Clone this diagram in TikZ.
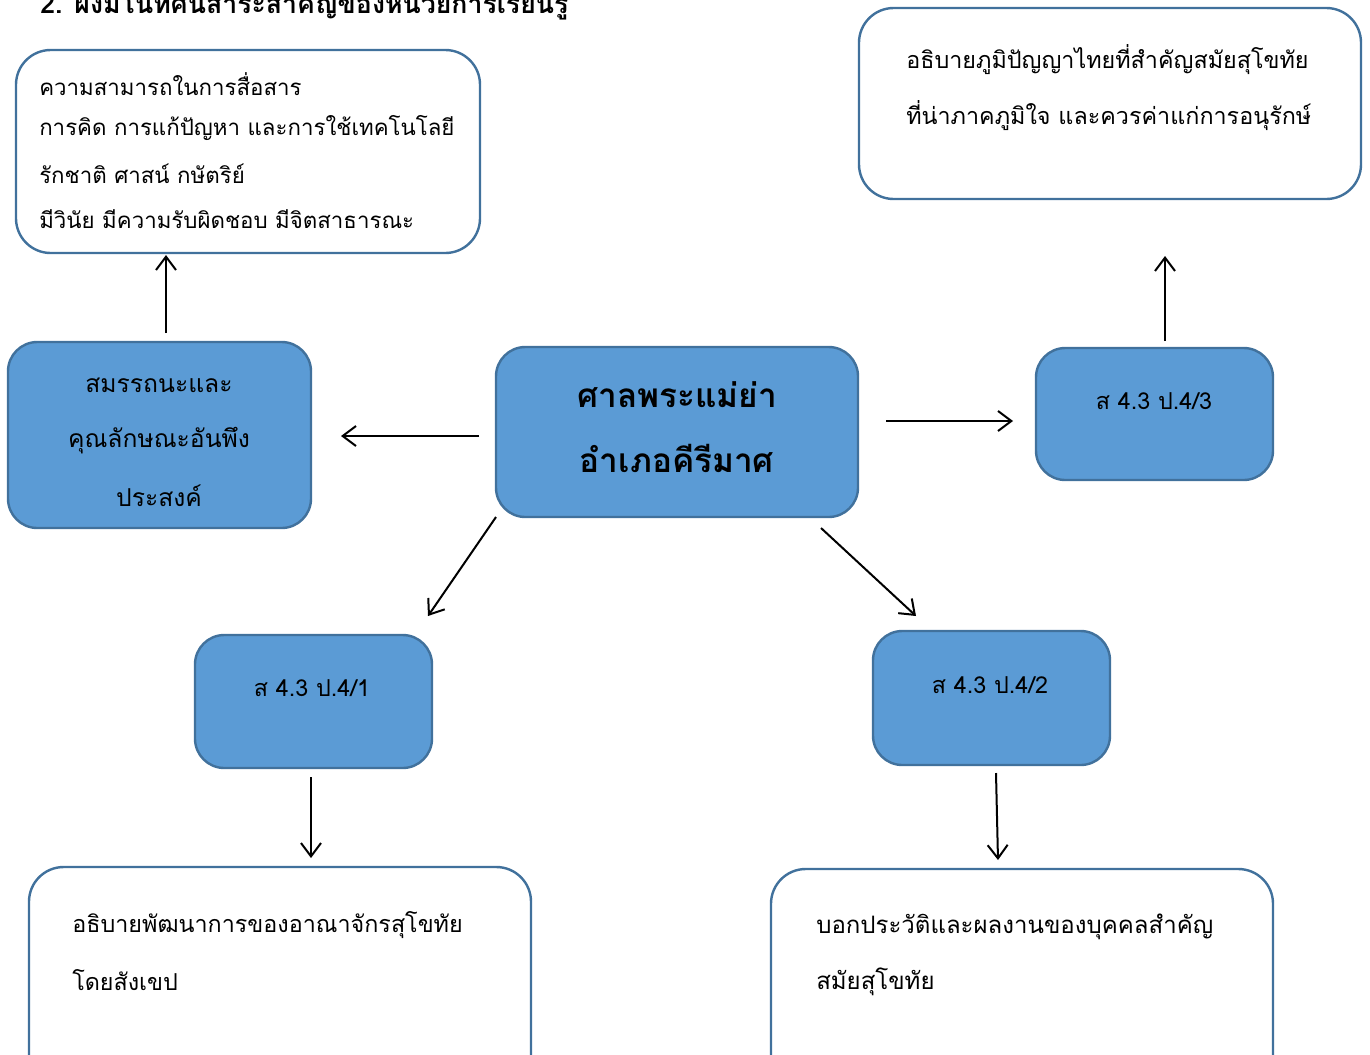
\documentclass[tikz,border=0pt]{standalone}
\usepackage{fontspec}
\setmainfont[Script=Thai]{Loma}
\usetikzlibrary{arrows.meta}
\definecolor{boxfill}{HTML}{5B9BD5}
\definecolor{boxline}{HTML}{41719C}
\tikzset{
  px/.style={x=0.75pt,y=-0.75pt},
  bluebox/.style={draw=boxline,line width=1.8pt,fill=boxfill,rounded corners=22pt,inner sep=0pt},
  whitebox/.style={draw=boxline,line width=1.8pt,fill=white,rounded corners=26pt,inner sep=0pt},
  txt/.style={inner sep=0pt,anchor=west,font=\fontsize{17.5pt}{20pt}\selectfont},
  ctxt/.style={inner sep=0pt,font=\fontsize{18.5pt}{21pt}\selectfont},
  codetxt/.style={inner sep=0pt,font=\fontsize{17.5pt}{20pt}\selectfont},
  boldtxt/.style={inner sep=0pt,font=\bfseries\fontsize{25pt}{28pt}\selectfont},
  arr/.style={-{Straight Barb[length=10pt,width=15pt,line width=1.5pt]},line width=1.5pt,black}
}
\begin{document}
\begin{tikzpicture}[px]
\useasboundingbox (0,0) rectangle (1370,1054);
% title (cut at top)
\node[inner sep=0pt,anchor=base west,font=\bfseries\fontsize{20pt}{24pt}\selectfont] (title) at (40,13) {2. ผังมโนทัศน์สาระสำคัญของหน่วยการเรียนรู้};
% boxes
\node[whitebox,minimum width=348pt,minimum height=152.25pt] (tl) at (248,151.5) {};
\node[whitebox,minimum width=376.5pt,minimum height=143.25pt] (tr) at (1110,103.5) {};
\node[bluebox,minimum width=227.25pt,minimum height=139.5pt] (lb) at (159.5,435) {};
\node[bluebox,minimum width=271.5pt,minimum height=127.5pt] (cb) at (677,432) {};
\node[bluebox,minimum width=177.75pt,minimum height=99pt] (rb) at (1154.5,414) {};
\node[bluebox,minimum width=177.75pt,minimum height=99.75pt] (blb) at (313.5,701.5) {};
\node[bluebox,minimum width=177.75pt,minimum height=100.5pt] (brb) at (991.5,698) {};
\node[whitebox,minimum width=376.5pt,minimum height=167.25pt] (blw) at (280,978.5) {};
\node[whitebox,minimum width=376.5pt,minimum height=165.75pt] (brw) at (1022,979.5) {};
% texts
\begin{scope}[every node/.append style={font=\fontsize{16.7pt}{20pt}\selectfont}]
\node[txt,font=\fontsize{16.7pt}{20pt}\selectfont] (tl1) at (39,84) {ความสามารถในการสื่อสาร};
\node[txt,font=\fontsize{16.7pt}{20pt}\selectfont] (tl2) at (39,128) {การคิด การแก้ปัญหา และการใช้เทคโนโลยี};
\node[txt,font=\fontsize{16.7pt}{20pt}\selectfont] (tl3) at (39,174) {รักชาติ ศาสน์ กษัตริย์};
\node[txt,font=\fontsize{16.7pt}{20pt}\selectfont] (tl4) at (39,219) {มีวินัย มีความรับผิดชอบ มีจิตสาธารณะ};
\end{scope}
\node[txt] (tr1) at (906,60) {อธิบายภูมิปัญญาไทยที่สำคัญสมัยสุโขทัย};
\node[txt] (tr2) at (906,116) {ที่น่าภาคภูมิใจ และควรค่าแก่การอนุรักษ์};
\node[ctxt] (lb1) at (159,385) {สมรรถนะและ};
\node[ctxt] (lb2) at (159,441) {คุณลักษณะอันพึง};
\node[ctxt] (lb3) at (159,496) {ประสงค์};
\node[boldtxt] (cb1) at (677,395) {ศาลพระแม่ย่า};
\node[boldtxt] (cb2) at (677,458) {อำเภอคีรีมาศ};
\node[codetxt] (rb1) at (1154,401) {ส 4.3 ป.4/3};
\node[codetxt] (blb1) at (312,688) {ส 4.3 ป.4/1};
\node[codetxt] (brb1) at (990,685) {ส 4.3 ป.4/2};
\node[txt] (blw1) at (72,925) {อธิบายพัฒนาการของอาณาจักรสุโขทัย};
\node[txt] (blw2) at (72,980) {โดยสังเขป};
\node[txt,font=\fontsize{18pt}{20pt}\selectfont] (brw1) at (816,927) {บอกประวัติและผลงานของบุคคลสำคัญ};
\node[txt,font=\fontsize{18pt}{20pt}\selectfont] (brw2) at (816,982) {สมัยสุโขทัย};
% arrow end points
\coordinate (a1s) at (166,333); \coordinate (a1e) at (166,255);
\coordinate (a2s) at (479,436); \coordinate (a2e) at (341,436);
\coordinate (a3s) at (886,421); \coordinate (a3e) at (1013,421);
\coordinate (a4s) at (1165,341); \coordinate (a4e) at (1165,256);
\coordinate (a5s) at (496,517); \coordinate (a5e) at (428,616);
\coordinate (a6s) at (821,528); \coordinate (a6e) at (916,616);
\coordinate (a7s) at (311,777); \coordinate (a7e) at (311,858);
\coordinate (a8s) at (996,773); \coordinate (a8e) at (998,860);
\draw[arr] (a1s) -- (a1e);
\draw[arr] (a2s) -- (a2e);
\draw[arr] (a3s) -- (a3e);
\draw[arr] (a4s) -- (a4e);
\draw[arr] (a5s) -- (a5e);
\draw[arr] (a6s) -- (a6e);
\draw[arr] (a7s) -- (a7e);
\draw[arr] (a8s) -- (a8e);
\end{tikzpicture}
\end{document}
